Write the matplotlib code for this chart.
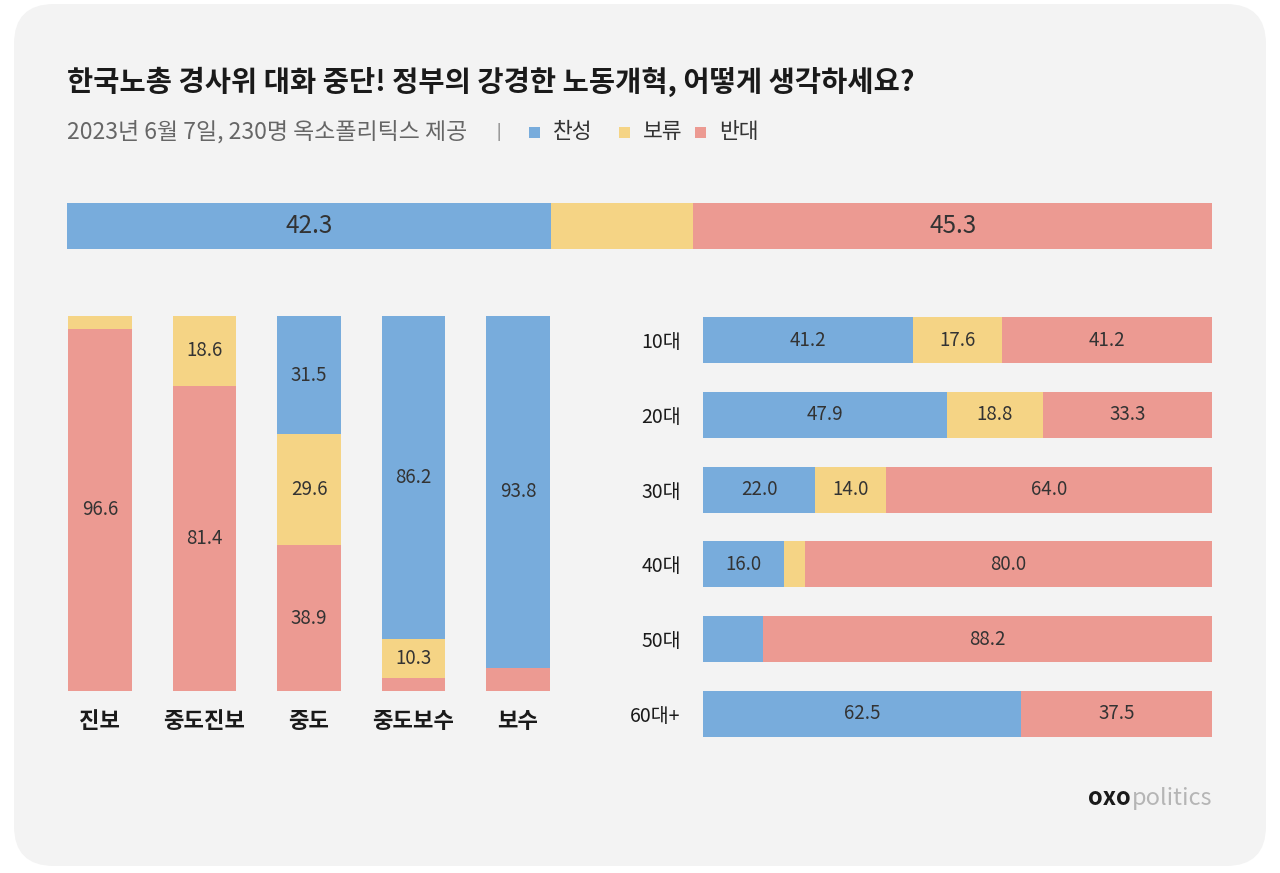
import matplotlib
matplotlib.use("Agg")
import matplotlib.pyplot as plt
from matplotlib.patches import FancyBboxPatch, Rectangle

plt.rcParams['font.family'] = ['Noto Sans CJK KR', 'DejaVu Sans']

# data
total = [42.3, 12.4, 45.3]

groups = ['진보', '중도진보', '중도', '중도보수', '보수']
g_yes = [0, 0, 31.5, 86.2, 93.8]
g_hold = [3.4, 18.6, 29.6, 10.3, 0]
g_no = [96.6, 81.4, 38.9, 3.5, 6.2]

ages = ['10대', '20대', '30대', '40대', '50대', '60대+']
a_yes = [41.2, 47.9, 22.0, 16.0, 11.8, 62.5]
a_hold = [17.6, 18.8, 14.0, 4.0, 0, 0]
a_no = [41.2, 33.3, 64.0, 80.0, 88.2, 37.5]

BLUE = '#78acdc'
YELLOW = '#f5d485'
RED = '#ec9a92'
BG = '#f3f3f3'
TXT = '#333333'

W, H = 1280, 873
fig = plt.figure(figsize=(W / 100, H / 100), dpi=100)
fig.patch.set_facecolor('white')


def px_axes(x0, y0, x1, y1):
    return fig.add_axes([x0 / W, 1 - y1 / H, (x1 - x0) / W, (y1 - y0) / H])


# background card + header text in pixel coordinates
bg = fig.add_axes([0, 0, 1, 1])
bg.set_xlim(0, W)
bg.set_ylim(H, 0)
bg.axis('off')
bg.add_patch(FancyBboxPatch((14, 4), 1252, 862, boxstyle="round,pad=0,rounding_size=40",
                            fc=BG, ec='none'))

bg.text(67, 82, '한국노총 경사위 대화 중단! 정부의 강경한 노동개혁, 어떻게 생각하세요?',
        fontsize=20.5, fontweight='semibold', color='#1a1a1a', va='center', ha='left')
bg.text(67, 132, '2023년 6월 7일, 230명 옥소폴리틱스 제공', fontsize=16.5,
        color='#666666', va='center', ha='left')
bg.text(499, 132, '|', fontsize=11, color='#666666', va='center', ha='center')
for x, c, lab in [(529, BLUE, '찬성'), (619, YELLOW, '보류'), (695, RED, '반대')]:
    bg.add_patch(Rectangle((x, 127), 11, 11, fc=c, ec='none'))
    bg.text(x + 24, 132, lab, fontsize=15.5, color='#333333', va='center', ha='left')

# brand mark: "oxo" dark + "politics" light, set side by side
fig.canvas.draw()
r = fig.canvas.get_renderer()
oxo = bg.text(1088, 798, 'oxo', fontsize=17, color='#1a1a1a', fontweight='semibold',
              va='center', ha='left')
ext = oxo.get_window_extent(renderer=r)
x_end = bg.transData.inverted().transform((ext.x1, ext.y0))[0]
bg.text(x_end + 1, 798, 'politics', fontsize=17, color='#b5b5b5', va='center', ha='left')

# top overall bar
ax0 = px_axes(67, 203, 1212, 249)
left = 0
for i, (v, c) in enumerate(zip(total, [BLUE, YELLOW, RED])):
    ax0.barh(0, v, left=left, height=1, color=c, edgecolor='none')
    if i != 1:
        ax0.text(left + v / 2, 0, f'{v:.1f}', ha='center', va='center',
                 fontsize=17.5, color=TXT, fontweight='light')
    left += v
ax0.set_xlim(0, 100)
ax0.set_ylim(-0.5, 0.5)
ax0.axis('off')

# ideology vertical stacked bars
ax1 = px_axes(68, 316, 550, 691)
xs = range(len(groups))
bw = 0.612
for i in xs:
    bottom = 0
    for v, c in [(g_no[i], RED), (g_hold[i], YELLOW), (g_yes[i], BLUE)]:
        if v > 0:
            ax1.bar(i, v, bottom=bottom, width=bw, color=c, edgecolor='none')
            if v >= 10:
                ax1.text(i, bottom + v / 2, f'{v:.1f}', ha='center', va='center',
                         fontsize=13.5, color=TXT, fontweight='light')
        bottom += v
ax1.set_xlim(-bw / 2, len(groups) - 1 + bw / 2)
ax1.set_ylim(0, 100)
ax1.set_xticks(list(xs))
ax1.set_xticklabels(groups, fontsize=16, fontweight='semibold', color='#1a1a1a')
ax1.tick_params(axis='x', length=0, pad=14)
ax1.set_yticks([])
ax1.set_facecolor('none')
for s in ax1.spines.values():
    s.set_visible(False)

# age horizontal stacked bars
ax2 = px_axes(703, 317, 1212, 737)
bh = 0.615
for i in range(len(ages)):
    left = 0
    for v, c in [(a_yes[i], BLUE), (a_hold[i], YELLOW), (a_no[i], RED)]:
        if v > 0:
            ax2.barh(i, v, left=left, height=bh, color=c, edgecolor='none')
            if v >= 13:
                ax2.text(left + v / 2, i, f'{v:.1f}', ha='center', va='center',
                         fontsize=13.5, color=TXT, fontweight='light')
        left += v
ax2.set_xlim(0, 100)
ax2.set_ylim(len(ages) - 1 + bh / 2, -bh / 2)
ax2.set_yticks(range(len(ages)))
ax2.set_yticklabels(ages, fontsize=14, color='#1a1a1a')
ax2.tick_params(axis='y', length=0, pad=16)
ax2.set_xticks([])
ax2.set_facecolor('none')
for s in ax2.spines.values():
    s.set_visible(False)

fig.savefig('out.png', dpi=100, facecolor='white')
